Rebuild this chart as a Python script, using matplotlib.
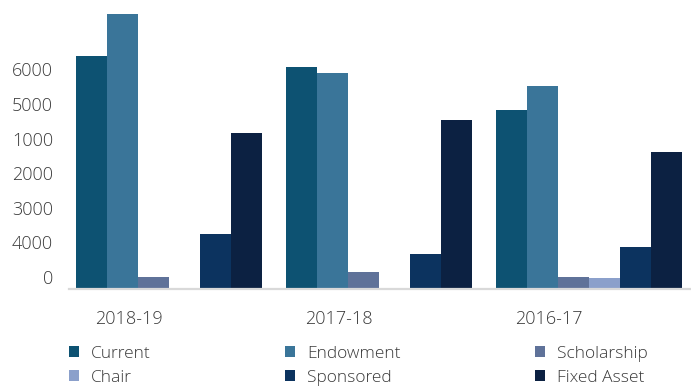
import numpy as np
import matplotlib
matplotlib.use("Agg")
import matplotlib.pyplot as plt
from matplotlib.transforms import ScaledTranslation

plt.rcParams["font.family"] = ["Open Sans", "DejaVu Sans"]
plt.rcParams["font.weight"] = "light"

# data
years = ["2018-19", "2017-18", "2016-17"]
series = ["Current", "Endowment", "Scholarship", "Chair", "Sponsored", "Fixed Asset"]
current = [6734, 6416, 5173]
endowment = [7948, 6243, 5867]
scholarship = [347, 491, 347]
chair = [0, 0, 318]
sponsored = [1590, 1012, 1214]
fixed_asset = [4509, 4884, 3960]
ytick_values = [0, 1000, 2000, 3000, 4000, 5000, 6000]
ytick_labels = ["0", "4000", "3000", "2000", "1000", "5000", "6000"]

colors = ["#0d5272", "#3a7599", "#5f7299", "#8ba0cb", "#0c335f", "#0c2142"]
values = [current, endowment, scholarship, chair, sponsored, fixed_asset]

W, H = 691, 386
fig = plt.figure(figsize=(W / 100, H / 100), dpi=100)
ax = fig.add_axes([69 / W, 1 - 289 / H, 1 - 69 / W, 277 / H])

x = np.arange(len(years))
w = 31 / 210
handles = []
for k, (name, vals, c) in enumerate(zip(series, values, colors)):
    b = ax.bar(x + (k - 2.5) * w, vals, width=w, color=c, label=name, linewidth=0)
    handles.append(b)

ax.set_xlim(-0.476, 2.488)
ax.set_ylim(0, 8000)

for s in ["top", "right", "left"]:
    ax.spines[s].set_visible(False)
ax.spines["bottom"].set_color("#d9d9d9")
ax.spines["bottom"].set_linewidth(1.6)

ax.set_yticks(ytick_values)
ax.set_yticklabels(ytick_labels)
ax.set_xticks(x - 0.19)
ax.set_xticklabels(years)
ax.tick_params(axis="both", length=0, labelsize=13, labelcolor="#3a3a3a")
ax.tick_params(axis="y", pad=11.5)
ax.tick_params(axis="x", pad=15)
off = ScaledTranslation(0, 12 / 100, fig.dpi_scale_trans)
for lab in ax.get_yticklabels():
    lab.set_transform(lab.get_transform() + off)

order = [0, 3, 1, 4, 2, 5]
leg = fig.legend([handles[i] for i in order], [series[i] for i in order],
                 loc="upper left", bbox_to_anchor=(69 / W, 1 - 346 / H),
                 ncol=3, frameon=False, fontsize=12.5, borderpad=0, borderaxespad=0,
                 handlelength=0.58, handleheight=0.58, handletextpad=0.7,
                 columnspacing=7.72, labelspacing=0.45)
for t in leg.get_texts():
    t.set_color("#3a3a3a")

fig.savefig("out.png", dpi=100)
